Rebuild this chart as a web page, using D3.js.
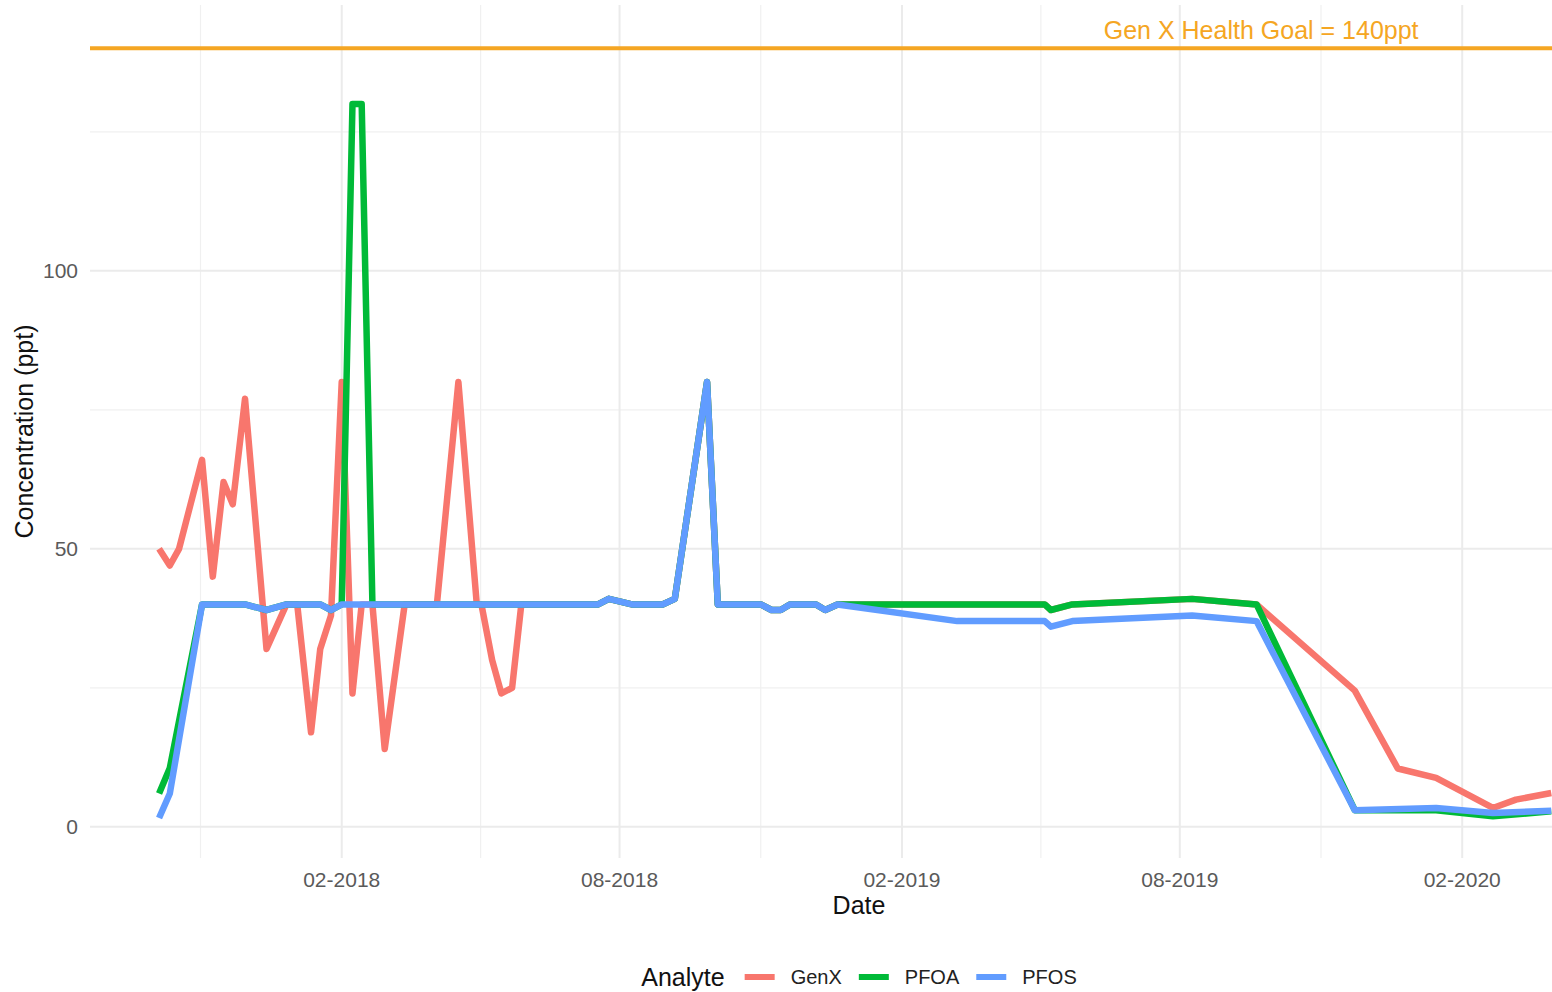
<!DOCTYPE html>
<html><head><meta charset="utf-8">
<script src="https://cdn.jsdelivr.net/npm/d3@7"></script>
<style>
html,body{margin:0;padding:0;background:#fff;overflow:hidden}
svg{display:block;font-family:"Liberation Sans",Arial,Helvetica,sans-serif}
</style></head><body>
<svg id="chart" width="1552" height="992"></svg>
<script>
// ---------- data ----------
const seriesNames = ["GenX", "PFOA", "PFOS"];
const seriesColors = ["#F8766D", "#00BA38", "#619CFF"];

const genxDates = ["2017-10-05","2017-10-12","2017-10-18","2017-11-02","2017-11-09","2017-11-16","2017-11-22","2017-11-30","2017-12-14","2017-12-27","2018-01-03","2018-01-12","2018-01-18","2018-01-25","2018-02-01","2018-02-08","2018-02-14","2018-02-21","2018-03-01","2018-03-14","2018-04-04","2018-04-18","2018-04-30","2018-05-03","2018-05-10","2018-05-16","2018-05-23","2018-05-29","2018-07-18","2018-07-25","2018-08-09","2018-08-29","2018-09-06","2018-09-27","2018-10-04","2018-11-01","2018-11-08","2018-11-14","2018-11-20","2018-12-07","2018-12-13","2018-12-21","2019-05-05","2019-05-09","2019-05-23","2019-08-09","2019-09-20","2019-11-23","2019-12-21","2020-01-15","2020-02-21","2020-03-07","2020-03-30"];
const genxValues = [50,47,50,66,45,62,58,77,32,40,40,17,32,38,80,24,40,40,14,40,40,80,40,40,30,24,25,40,40,41,40,40,41,80,40,40,39,39,40,40,39,40,40,39,40,41,40,24.5,10.5,8.8,3.4,4.9,6.1];

const pfoaDates = ["2017-10-05","2017-10-12","2017-11-02","2017-11-30","2017-12-14","2017-12-27","2018-01-18","2018-01-25","2018-02-01","2018-02-08","2018-02-14","2018-02-21","2018-07-18","2018-07-25","2018-08-09","2018-08-29","2018-09-06","2018-09-27","2018-10-04","2018-11-01","2018-11-08","2018-11-14","2018-11-20","2018-12-07","2018-12-13","2018-12-21","2019-05-05","2019-05-09","2019-05-23","2019-08-09","2019-09-20","2019-11-23","2020-01-15","2020-02-21","2020-03-30"];
const pfoaValues = [6,10.6,40,40,39,40,40,39,40,130,130,40,40,41,40,40,41,80,40,40,39,39,40,40,39,40,40,39,40,41,40,3,3,1.9,2.8];

const pfosDates = ["2017-10-05","2017-10-12","2017-11-02","2017-11-30","2017-12-14","2017-12-27","2018-01-18","2018-01-25","2018-02-01","2018-07-18","2018-07-25","2018-08-09","2018-08-29","2018-09-06","2018-09-27","2018-10-04","2018-11-01","2018-11-08","2018-11-14","2018-11-20","2018-12-07","2018-12-13","2018-12-21","2019-03-09","2019-05-05","2019-05-09","2019-05-23","2019-08-09","2019-09-20","2019-11-23","2020-01-15","2020-02-21","2020-03-30"];
const pfosValues = [1.6,6,40,40,39,40,40,39,40,40,41,40,40,41,80,40,40,39,39,40,40,39,40,37,37,36,37,38,37,3,3.4,2.5,2.9];

const xTickDates = ["2018-02-01","2018-08-01","2019-02-01","2019-08-01","2020-02-01"];
const xTickFormat = "%m-%Y";
const yTicks = [0, 50, 100];
const yMinorTicks = [25, 75, 125];
const xDomain = ["2017-08-21", "2020-05-19"];
const yDomain = [-5.6, 147.8];

const goalValue = 140;
const goalLabel = "Gen X Health Goal = 140ppt";
const goalLabelDate = "2019-09-23";
const goalLabelValue = 143.3;
const goalColor = "#F5A623";

const xTitle = "Date";
const yTitle = "Concentration (ppt)";
const legendTitle = "Analyte";

// ---------- layout ----------
const W = 1552, H = 992;
const panel = {left: 90, right: 1628, top: 5, bottom: 858};
const parse = d3.utcParse("%Y-%m-%d");

const x = d3.scaleUtc().domain(xDomain.map(parse)).range([panel.left, panel.right]);
const y = d3.scaleLinear().domain(yDomain).range([panel.bottom, panel.top]);

const svg = d3.select("#chart");

// grid
const grid = svg.append("g");
const majorX = xTickDates.map(parse);
// minor x breaks: midpoints between majors (extended by one interval each side)
const ext = [d3.utcMonth.offset(majorX[0], -6), ...majorX, d3.utcMonth.offset(majorX[majorX.length-1], 6)];
const minorX = [];
for (let i = 0; i < ext.length - 1; i++) minorX.push(new Date((+ext[i] + +ext[i+1]) / 2));

grid.selectAll(".ymin").data(yMinorTicks).join("line")
  .attr("x1", panel.left).attr("x2", panel.right)
  .attr("y1", d => y(d)).attr("y2", d => y(d))
  .attr("stroke", "#f0f0f0").attr("stroke-width", 1.2);
grid.selectAll(".xmin").data(minorX.filter(d => x(d) >= panel.left && x(d) <= panel.right)).join("line")
  .attr("x1", d => x(d)).attr("x2", d => x(d))
  .attr("y1", panel.top).attr("y2", panel.bottom)
  .attr("stroke", "#f0f0f0").attr("stroke-width", 1.2);
grid.selectAll(".ymaj").data(yTicks).join("line")
  .attr("x1", panel.left).attr("x2", panel.right)
  .attr("y1", d => y(d)).attr("y2", d => y(d))
  .attr("stroke", "#ebebeb").attr("stroke-width", 2);
grid.selectAll(".xmaj").data(majorX).join("line")
  .attr("x1", d => x(d)).attr("x2", d => x(d))
  .attr("y1", panel.top).attr("y2", panel.bottom)
  .attr("stroke", "#ebebeb").attr("stroke-width", 2);

// clip
svg.append("clipPath").attr("id", "clip").append("rect")
  .attr("x", panel.left).attr("y", panel.top)
  .attr("width", panel.right - panel.left).attr("height", panel.bottom - panel.top);

// health goal line + label
svg.append("line")
  .attr("x1", panel.left).attr("x2", panel.right)
  .attr("y1", y(goalValue)).attr("y2", y(goalValue))
  .attr("stroke", goalColor).attr("stroke-width", 4);
svg.append("text")
  .attr("x", x(parse(goalLabelDate))).attr("y", y(goalLabelValue))
  .attr("text-anchor", "middle").attr("dominant-baseline", "central")
  .attr("font-size", 25).attr("fill", goalColor)
  .text(goalLabel);

// series
const seriesData = [
  genxDates.map((d, i) => ({date: parse(d), value: genxValues[i]})),
  pfoaDates.map((d, i) => ({date: parse(d), value: pfoaValues[i]})),
  pfosDates.map((d, i) => ({date: parse(d), value: pfosValues[i]}))
];
const line = d3.line().x(d => x(d.date)).y(d => y(d.value));
const lines = svg.append("g").attr("clip-path", "url(#clip)");
seriesData.forEach((s, i) => {
  lines.append("path").datum(s)
    .attr("d", line)
    .attr("fill", "none")
    .attr("stroke", seriesColors[i])
    .attr("stroke-width", 6.5)
    .attr("stroke-linejoin", "round")
    .attr("stroke-linecap", "butt");
});

// axes text
const tickFmt = d3.utcFormat(xTickFormat);
svg.append("g").selectAll("text").data(majorX).join("text")
  .attr("x", d => x(d)).attr("y", 887)
  .attr("text-anchor", "middle")
  .attr("font-size", 21).attr("fill", "#5a5a5a")
  .text(d => tickFmt(d));
svg.append("g").selectAll("text").data(yTicks).join("text")
  .attr("x", panel.left - 12).attr("y", d => y(d))
  .attr("text-anchor", "end").attr("dominant-baseline", "central")
  .attr("font-size", 21).attr("fill", "#5a5a5a")
  .text(d => d);

const cx = (panel.left + panel.right) / 2;
svg.append("text")
  .attr("x", cx).attr("y", 914)
  .attr("text-anchor", "middle").attr("font-size", 25).attr("fill", "#111")
  .text(xTitle);
svg.append("text")
  .attr("transform", `translate(33,${(panel.top + panel.bottom) / 2}) rotate(-90)`)
  .attr("text-anchor", "middle").attr("font-size", 25).attr("fill", "#111")
  .text(yTitle);

// legend
const leg = svg.append("g");
const legY = 977;
const tTitle = leg.append("text").attr("y", legY).attr("dominant-baseline", "central")
  .attr("font-size", 25).attr("fill", "#111").text(legendTitle);
const items = seriesNames.map((n, i) => {
  const ln = leg.append("line").attr("y1", legY).attr("y2", legY)
    .attr("stroke", seriesColors[i]).attr("stroke-width", 6);
  const tx = leg.append("text").attr("y", legY).attr("dominant-baseline", "central")
    .attr("font-size", 20).attr("fill", "#222").text(n);
  return {ln, tx};
});
const keyLen = 30, gapTitle = 20, gapKey = 16, gapItem = 17;
let total = tTitle.node().getComputedTextLength() + gapTitle;
items.forEach((it, i) => {
  total += keyLen + gapKey + it.tx.node().getComputedTextLength() + (i < items.length - 1 ? gapItem : 0);
});
let cur = cx - total / 2;
tTitle.attr("x", cur);
cur += tTitle.node().getComputedTextLength() + gapTitle;
items.forEach((it) => {
  it.ln.attr("x1", cur).attr("x2", cur + keyLen);
  cur += keyLen + gapKey;
  it.tx.attr("x", cur);
  cur += it.tx.node().getComputedTextLength() + gapItem;
});
</script>
</body></html>
